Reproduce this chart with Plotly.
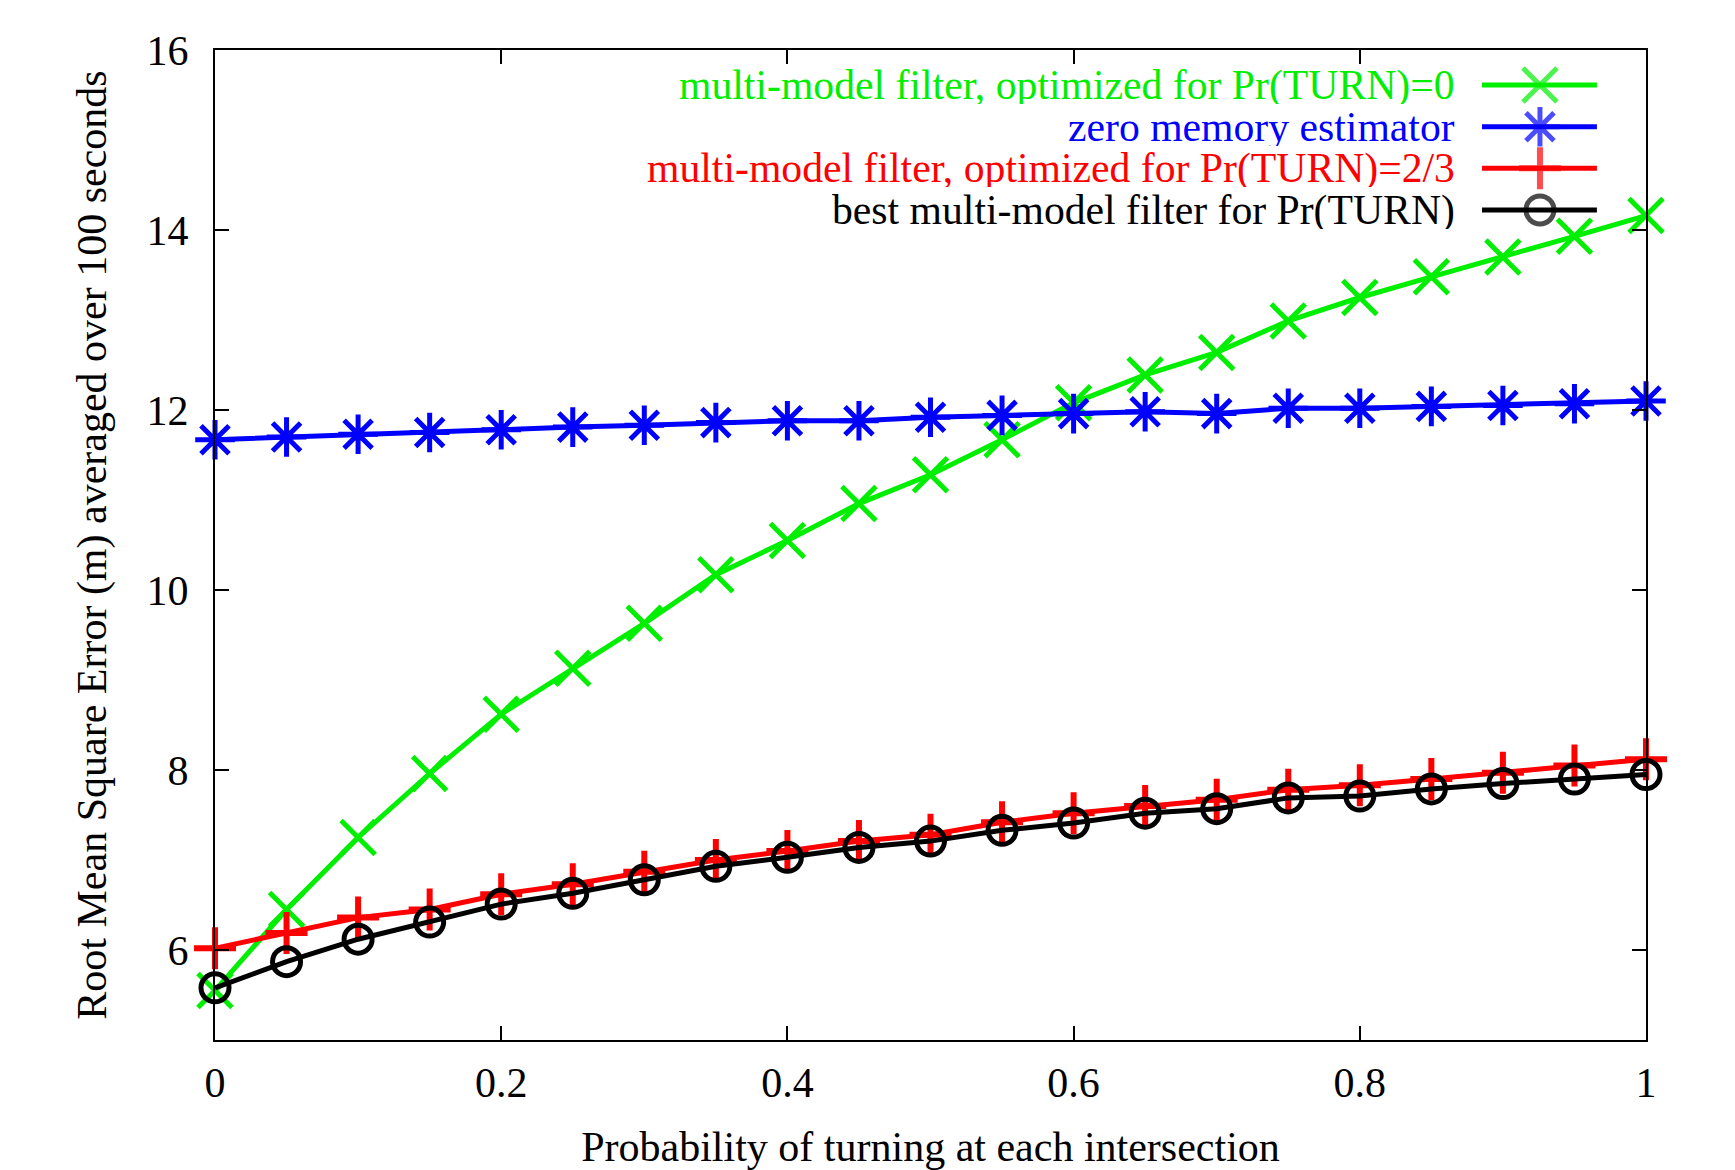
import plotly.graph_objects as go

x = [0, 0.05, 0.1, 0.15, 0.2, 0.25, 0.3, 0.35, 0.4, 0.45, 0.5,
     0.55, 0.6, 0.65, 0.7, 0.75, 0.8, 0.85, 0.9, 0.95, 1.0]

mm_turn0 = [5.55, 6.45, 7.25, 7.96, 8.62, 9.13, 9.63, 10.17, 10.55, 10.96, 11.28,
            11.67, 12.08, 12.39, 12.64, 12.99, 13.25, 13.48, 13.70, 13.93, 14.16]
zero_mem = [11.67, 11.70, 11.73, 11.75, 11.78, 11.81, 11.83, 11.86, 11.88, 11.88, 11.92,
            11.94, 11.96, 11.98, 11.96, 12.02, 12.02, 12.04, 12.05, 12.07, 12.10]
mm_turn23 = [6.02, 6.19, 6.36, 6.45, 6.62, 6.73, 6.87, 7.00, 7.10, 7.21, 7.28,
             7.42, 7.52, 7.60, 7.67, 7.78, 7.83, 7.90, 7.97, 8.05, 8.12]
best_mm = [5.58, 5.87, 6.12, 6.31, 6.51, 6.63, 6.78, 6.93, 7.03, 7.14, 7.21,
           7.33, 7.41, 7.52, 7.57, 7.69, 7.71, 7.79, 7.85, 7.90, 7.95]

series_names = ["multi-model filter, optimized for Pr(TURN)=0",
                "zero memory estimator",
                "multi-model filter, optimized for Pr(TURN)=2/3",
                "best multi-model filter for Pr(TURN)"]
series_values = [mm_turn0, zero_mem, mm_turn23, best_mm]
colors = ["#00ee00", "#0000ff", "#ff0000", "#000000"]
symbols = ["x-thin-open", "asterisk-open", "cross-thin-open", "circle-open"]
msizes = [34, 33, 30, 28]
mlw = [5, 5, 6, 5]

FONT = "Liberation Serif"
FS = 42
LEG_FS = 41.7
LW = 5

fig = go.Figure()
for name, vals, c, s, ms, mw in zip(series_names, series_values, colors, symbols, msizes, mlw):
    fig.add_trace(go.Scatter(
        x=x, y=vals, mode="lines+markers", name=name,
        line=dict(color=c, width=LW),
        marker=dict(symbol=s, size=ms, color=c, line=dict(color=c, width=mw)),
        showlegend=False, cliponaxis=False))

# manual legend (symbol to the right of right-aligned text)
leg_rows = [0.9646, 0.9225, 0.8805, 0.8384]
for name, c, s, ms, mw, ry in zip(series_names, colors, symbols, msizes, mlw, leg_rows):
    fig.add_trace(go.Scatter(
        x=[0.8854, 0.9259, 0.9657], y=[ry, ry, ry], xaxis="x2", yaxis="y2",
        mode="lines+markers", showlegend=False, hoverinfo="skip",
        line=dict(color=c, width=LW),
        marker=dict(symbol=s, size=[0, ms, 0], color=c, line=dict(color=c, width=mw))))
    fig.add_annotation(xref="paper", yref="paper", x=0.868, y=ry, text=name,
                       showarrow=False, xanchor="right", yanchor="middle",
                       height=38, valign="middle",
                       font=dict(family=FONT, size=LEG_FS, color=c))

axis_common = dict(showline=True, linecolor="black", linewidth=2, mirror="ticks",
                   ticks="inside", ticklen=14, tickwidth=2, tickcolor="black",
                   showgrid=False, zeroline=False, automargin=False,
                   tickfont=dict(family=FONT, size=FS, color="black"))

fig.update_layout(
    width=1735, height=1170,
    margin=dict(l=215, r=89, t=50, b=130),
    plot_bgcolor="white", paper_bgcolor="white",
    xaxis=dict(range=[0, 1], tickvals=[0, 0.2, 0.4, 0.6, 0.8, 1],
               ticktext=["0", "0.2", "0.4", "0.6", "0.8", "1"],
               ticklabelstandoff=5,
               title=dict(text="Probability of turning at each intersection",
                          font=dict(family=FONT, size=FS, color="black"), standoff=30),
               **axis_common),
    yaxis=dict(range=[5, 16], tickvals=[6, 8, 10, 12, 14, 16],
               ticklabelstandoff=16,
               title=dict(text="Root Mean Square Error (m) averaged over 100 seconds",
                          font=dict(family=FONT, size=FS, color="black"), standoff=27),
               **axis_common),
    xaxis2=dict(range=[0, 1], overlaying="x", visible=False),
    yaxis2=dict(range=[0, 1], overlaying="y", visible=False),
)

fig.write_html("out.html")
